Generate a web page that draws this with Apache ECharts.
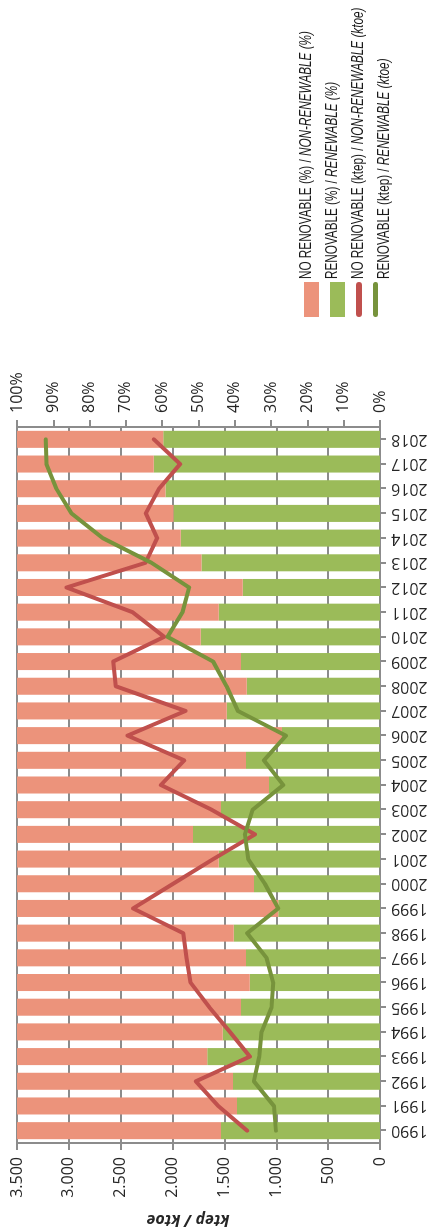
<!DOCTYPE html>
<html>
<head>
<meta charset="utf-8">
<script src="https://cdn.jsdelivr.net/npm/echarts@6/dist/echarts.min.js"></script>
<style>
  html, body { margin: 0; padding: 0; width: 431px; height: 1230px; overflow: hidden; background: #fff; }
  /* chart is laid out landscape and turned a quarter turn counter-clockwise */
  #chart { position: absolute; left: 0; top: 1230px; width: 1230px; height: 431px;
           transform: rotate(-90deg); transform-origin: 0 0; }
</style>
</head>
<body>
<div id="chart"></div>
<script>
// Energy balance by year: share (%) and amount (ktep / ktoe)
const years = ['1990','1991','1992','1993','1994','1995','1996','1997','1998','1999',
               '2000','2001','2002','2003','2004','2005','2006','2007','2008','2009',
               '2010','2011','2012','2013','2014','2015','2016','2017','2018'];

const renewablePct = [43.8, 39.4, 40.5, 47.6, 43.3, 38.3, 35.9, 36.9, 40.3, 28.0,
                      34.7, 44.4, 51.5, 43.8, 30.6, 36.9, 27.0, 42.2, 36.7, 38.3,
                      49.4, 44.4, 37.8, 49.2, 54.9, 56.9, 59.1, 62.3, 59.7];

const nonRenewablePct = [56.2, 60.6, 59.5, 52.4, 56.7, 61.7, 64.1, 63.1, 59.7, 72.0,
                         65.3, 55.6, 48.5, 56.2, 69.4, 63.1, 73.0, 57.8, 63.3, 61.7,
                         50.6, 55.6, 62.2, 50.8, 45.1, 43.1, 40.9, 37.7, 40.3];

const nonRenewableKtoe = [1281, 1560, 1776, 1255, 1448, 1646, 1827, 1865, 1898, 2381,
                          1995, 1608, 1206, 1624, 2113, 1888, 2435, 1875, 2548, 2573,
                          2081, 2387, 3023, 2261, 2149, 2258, 2130, 1927, 2181];

const renewableKtoe = [1004, 1023, 1216, 1165, 1142, 1045, 1030, 1094, 1281, 981,
                       1110, 1271, 1303, 1228, 933, 1119, 907, 1370, 1479, 1609,
                       2049, 1904, 1840, 2203, 2673, 2975, 3120, 3216, 3223];

// axis ranges and tick steps
const ktoeAxis = [0, 3500];
const ktoeStep = 500;
const pctAxis = [0, 100];
const pctStep = 10;

const seriesNames = [
  'NO RENOVABLE (%) / NON-RENEWABLE (%)',
  'RENOVABLE (%) / RENEWABLE (%)',
  'NO RENOVABLE (ktep) / NON-RENEWABLE (ktoe)',
  'RENOVABLE (ktep) / RENEWABLE (ktoe)'
];
const axisTitle = 'ktep / ktoe';

const COLORS = { nrBar: '#EC937B', rBar: '#9BBB59', nrLine: '#C0504D', rLine: '#77933C' };
const GRAY = '#8C8C8C';
const TEXT = '#262626';
const FONT = '"Open Sans", "Noto Sans", sans-serif';
const LEGEND_FONT = '"Liberation Sans", Arial, sans-serif';

const thousands = v => String(v).replace(/\B(?=(\d{3})+(?!\d))/g, '.');
const lineIconRed = 'path://M3,0H32A3,3,0,0,1,32,6H3A3,3,0,0,1,3,0Z';
const lineIconGreen = 'path://M2.5,0H32.5A2.5,2.5,0,0,1,32.5,5H2.5A2.5,2.5,0,0,1,2.5,0Z';

// legend layout (landscape frame)
const LEGEND_LEFT = 908;
const LEGEND_TOP = 299;
const LEGEND_ROW = 26;
const LEGEND_TEXT_X = 951;

const chart = echarts.init(document.getElementById('chart'), null, { renderer: 'canvas' });

// condensed legend captions: Spanish part upright, English part italic
const legendCaptions = seriesNames.map((name, i) => {
  const [es, en] = name.split(' / ');
  return {
    type: 'text',
    x: LEGEND_TEXT_X,
    y: LEGEND_TOP + 7.5 + i * LEGEND_ROW,
    scaleX: 0.69,
    silent: true,
    style: {
      text: '{n|' + es + ' / }{i|' + en + '}',
      verticalAlign: 'middle',
      align: 'left',
      rich: {
        n: { fill: '#1A1A1A', fontFamily: LEGEND_FONT, fontSize: 17 },
        i: { fill: '#1A1A1A', fontFamily: LEGEND_FONT, fontSize: 17, fontStyle: 'italic' }
      }
    }
  };
});

chart.setOption({
  animation: false,
  backgroundColor: '#fff',
  grid: { left: 87, right: 427, top: 17, bottom: 51, containLabel: false },
  legend: {
    orient: 'vertical',
    left: LEGEND_LEFT,
    top: LEGEND_TOP,
    itemWidth: 35,
    itemHeight: 15,
    itemGap: LEGEND_ROW - 15,
    selectedMode: false,
    data: [
      { name: seriesNames[0], icon: 'rect' },
      { name: seriesNames[1], icon: 'rect' },
      { name: seriesNames[2], icon: lineIconRed },
      { name: seriesNames[3], icon: lineIconGreen }
    ],
    formatter: () => '',
    textStyle: { fontSize: 12, lineHeight: 15 }
  },
  xAxis: {
    type: 'category',
    data: years,
    boundaryGap: true,
    axisLine: { show: true, lineStyle: { color: GRAY, width: 2 } },
    axisTick: { show: true, alignWithLabel: true, length: 6, lineStyle: { color: GRAY, width: 2 } },
    axisLabel: { rotate: 90, margin: 11, color: TEXT, fontFamily: FONT, fontSize: 16, interval: 0 },
    splitLine: { show: false }
  },
  yAxis: [
    {
      type: 'value',
      position: 'left',
      min: ktoeAxis[0],
      max: ktoeAxis[1],
      interval: ktoeStep,
      axisLine: { show: true, onZero: false, lineStyle: { color: GRAY, width: 2 } },
      axisTick: { show: true, length: 7, lineStyle: { color: GRAY, width: 2 } },
      axisLabel: { margin: 14, color: TEXT, fontFamily: FONT, fontSize: 16, formatter: thousands },
      splitLine: { show: true, lineStyle: { color: GRAY, width: 2 } }
    },
    {
      type: 'value',
      position: 'right',
      min: pctAxis[0],
      max: pctAxis[1],
      interval: pctStep,
      axisLine: { show: true, lineStyle: { color: GRAY, width: 2 } },
      axisTick: { show: true, length: 7, lineStyle: { color: GRAY, width: 2 } },
      axisLabel: { margin: 14, color: TEXT, fontFamily: FONT, fontSize: 16, formatter: '{value}%' },
      splitLine: { show: false }
    }
  ],
  graphic: [{
    type: 'text',
    x: 10,
    y: 188,
    rotation: Math.PI / 2,
    silent: true,
    style: {
      text: axisTitle,
      fill: TEXT,
      fontFamily: FONT,
      fontSize: 16,
      fontWeight: 'bold',
      fontStyle: 'italic',
      align: 'center',
      verticalAlign: 'middle'
    }
  }].concat(legendCaptions),
  series: [
    {
      name: seriesNames[1],
      type: 'bar',
      stack: 'share',
      yAxisIndex: 1,
      barCategoryGap: '31%',
      itemStyle: { color: COLORS.rBar },
      data: renewablePct,
      z: 2
    },
    {
      name: seriesNames[0],
      type: 'bar',
      stack: 'share',
      yAxisIndex: 1,
      barCategoryGap: '31%',
      itemStyle: { color: COLORS.nrBar },
      data: nonRenewablePct,
      z: 2
    },
    {
      name: seriesNames[2],
      type: 'line',
      yAxisIndex: 0,
      symbol: 'none',
      showSymbol: false,
      lineStyle: { color: COLORS.nrLine, width: 4, join: 'round', cap: 'round' },
      itemStyle: { color: COLORS.nrLine },
      data: nonRenewableKtoe,
      z: 5
    },
    {
      name: seriesNames[3],
      type: 'line',
      yAxisIndex: 0,
      symbol: 'none',
      showSymbol: false,
      lineStyle: { color: COLORS.rLine, width: 4, join: 'round', cap: 'round' },
      itemStyle: { color: COLORS.rLine },
      data: renewableKtoe,
      z: 5
    }
  ]
});
</script>
</body>
</html>
